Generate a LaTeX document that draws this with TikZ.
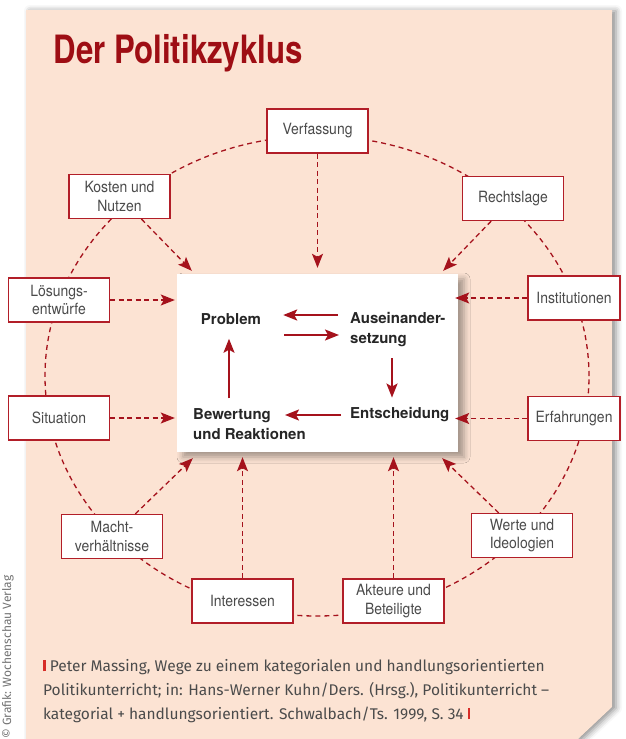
\documentclass[tikz,border=0pt]{standalone}
\usepackage{fontspec}
\usetikzlibrary{arrows.meta, shadows.blur}
\setmainfont{Fira Sans}
\newfontfamily\titlefont[FakeStretch=0.8]{TeX Gyre Heros}
\newfontfamily\boxfont[FakeStretch=0.9]{TeX Gyre Heros}
\newfontfamily\corefont{TeX Gyre Heros}
\definecolor{panelpeach}{RGB}{252,227,211}
\definecolor{titlered}{RGB}{158,14,20}
\definecolor{cyclered}{RGB}{165,18,28}
\definecolor{framered}{RGB}{178,30,40}
\definecolor{textgray}{RGB}{75,75,75}
\definecolor{barred}{RGB}{215,45,40}

\begin{document}
\begin{tikzpicture}[x=1pt, y=-1pt,
  factor/.style={draw=framered, line width=1.1pt, fill=white, minimum width=101pt, minimum height=44pt, align=center, inner sep=2pt, font=\boxfont\fontsize{15.5}{18.5}\selectfont, text=textgray},
  stage/.style={font=\corefont\bfseries\fontsize{15}{20}\selectfont, text=black!85, align=left, inner sep=3pt},
  flow/.style={draw=cyclered, line width=2.2pt, -{Stealth[length=14pt, width=11pt, inset=3pt]}},
  influence/.style={draw=cyclered, line width=1.3pt, dash pattern=on 5pt off 3.5pt, -{Stealth[length=14pt, width=11pt, inset=3pt]}},
  ring/.style={draw=cyclered, line width=1.3pt, dash pattern=on 5pt off 4pt}
]
  \useasboundingbox (0,0) rectangle (626,739);

  % sheet with folded corner
  \fill[panelpeach, blur shadow={shadow xshift=4pt, shadow yshift=-1pt, shadow blur radius=6pt, shadow opacity=45}]
    (26,10) -- (612,10) -- (612,707) -- (578,739) -- (26,739) -- cycle;

  \node[anchor=base west, font=\titlefont\bfseries\fontsize{39}{39}\selectfont, text=titlered] (title) at (50,63) {Der Politikzyklus};

  % outer cycle
  \draw[ring] (317,376) ellipse [x radius=272pt, y radius=240pt];

  \node[fill=white, minimum width=281pt, minimum height=178pt, blur shadow={shadow xshift=6pt, shadow yshift=-5pt, shadow blur radius=6pt, shadow opacity=35}] (core) at (317.5,363) {};

  \node[factor] (verf)  at (317.5,131) {Verfassung};
  \node[factor] (kost)  at (119.5,196.5) {Kosten und\\Nutzen};
  \node[factor] (recht) at (513,198.5) {Rechtslage};
  \node[factor] (loes)  at (59,300) {Lösungs-\\entwürfe};
  \node[factor] (sit)   at (59,418) {Situation};
  \node[factor, minimum width=92pt] (inst) at (574,298) {Institutionen};
  \node[factor, minimum width=92pt] (erf)  at (574,418.5) {Erfahrungen};
  \node[factor] (macht) at (112,536.5) {Macht-\\verhältnisse};
  \node[factor] (werte) at (522,535.5) {Werte und\\Ideologien};
  \node[factor] (inter) at (242.5,601) {Interessen};
  \node[factor] (akt)   at (393.5,601) {Akteure und\\Beteiligte};

  % influences on the cycle
  \draw[influence, shorten >=6pt] (verf) -- (verf |- core.north);
  \draw[influence] (kost) -- ([shift={(15pt,3pt)}]core.north west);
  \draw[influence] (recht) -- ([shift={(-15pt,3pt)}]core.north east);
  \draw[influence, shorten >=2pt] (loes) -- (loes -| core.west);
  \draw[influence, shorten >=2pt] (sit) -- (sit -| core.west);
  \draw[influence, shorten >=-3pt] (inst) -- (inst -| core.east);
  \draw[influence, shorten >=-3pt] (erf) -- (erf -| core.east);
  \draw[influence] (macht) -- ([shift={(16pt,-6pt)}]core.south west);
  \draw[influence, shorten >=5pt] (inter) -- (inter |- core.south);
  \draw[influence, shorten >=5pt] (akt) -- (akt |- core.south);
  \draw[influence] (werte) -- ([shift={(-16pt,-6pt)}]core.south east);

  \node[stage] (prob) at (231,319) {Problem};
  \node[stage, anchor=west] (ause) at (347,330) {Auseinander-\\setzung};
  \node[stage, anchor=west] (ents) at (347,415) {Entscheidung};
  \node[stage, anchor=west] (bew)  at (190,424) {Bewertung\\und Reaktionen};

  \draw[flow] ([xshift=-9pt]ause.west |- 0,315) -- ([xshift=19pt]prob.east |- 0,315);
  \draw[flow] ([xshift=20pt]prob.east |- 0,335) -- ([xshift=-8pt]ause.west |- 0,335);
  \draw[flow, shorten >=7pt] ([xshift=45pt,yshift=-8pt]ause.south west) -- ([xshift=45pt]ause.south west |- ents.north);
  \draw[flow] ([xshift=-6pt]ents.west) -- ([xshift=-62pt]ents.west);
  \draw[flow, shorten <=7pt] ([xshift=-2pt]prob.south |- bew.north) -- ([xshift=-2pt,yshift=-11pt]prob.south);

  \node[anchor=north west, align=left, inner sep=0pt, font=\fontsize{15.5}{24}\selectfont, text=textgray] (source) at (43,659)
    {\textcolor{barred}{\rule{2.5pt}{11pt}} Peter Massing, Wege zu einem kategorialen und handlungsorientierten\\
     Politikunterricht; in: Hans-Werner Kuhn/Ders. (Hrsg.), Politikunterricht –\\
     kategorial + handlungsorientiert. Schwalbach/Ts. 1999, S. 34 \textcolor{barred}{\rule{2.5pt}{11pt}}};

  \node[rotate=90, font=\fontsize{12}{12}\selectfont, text=black!55] (credit) at (8,657) {© Grafik: Wochenschau Verlag};
\end{tikzpicture}
\end{document}
